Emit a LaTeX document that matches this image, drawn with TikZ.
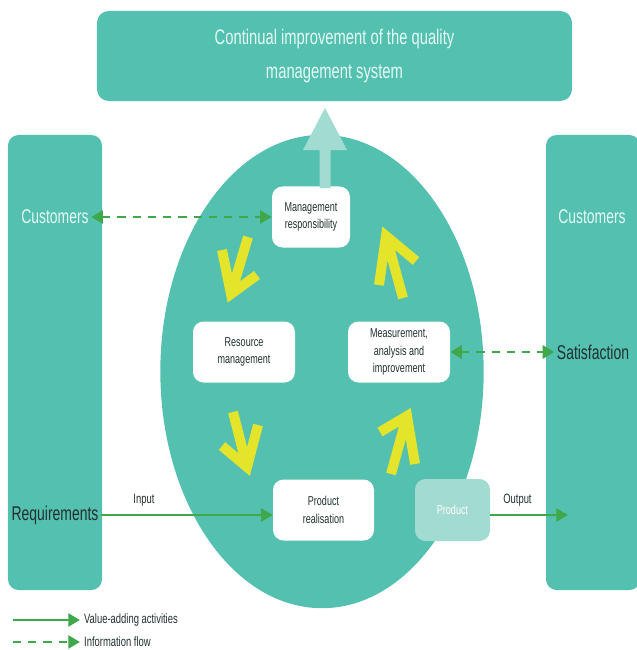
\documentclass[tikz,border=0pt]{standalone}
\usepackage{fontspec}
\setmainfont{Liberation Sans}[FakeStretch=0.7]
\usetikzlibrary{arrows.meta}
\definecolor{qteal}{RGB}{84,192,176}
\definecolor{qlight}{RGB}{162,219,210}
\definecolor{qyellow}{RGB}{228,228,42}
\definecolor{qgreen}{RGB}{62,168,74}
\definecolor{qdark}{RGB}{35,48,48}
\definecolor{qpale}{RGB}{228,250,246}
\tikzstyle{column}=[fill=qteal,rounded corners=9pt,minimum width=2.82cm,minimum height=13.65cm]
\tikzstyle{process}=[fill=white,rounded corners=9pt,align=center,text=qdark,minimum height=1.83cm,font=\fontsize{11}{15}\selectfont]
\tikzstyle{party}=[font=\fontsize{17}{20}\selectfont,inner sep=2pt]
\tikzstyle{flow}=[draw=qgreen,line width=2.5pt,-{Triangle[length=10pt,width=11pt]}]
\tikzstyle{info}=[flow,dash pattern=on 7pt off 6pt,{Triangle[length=10pt,width=11pt]}-{Triangle[length=10pt,width=11pt]}]
\tikzstyle{cycle}=[draw=qyellow,line width=8.5pt,line join=miter,miter limit=20]
\tikzstyle{flowtext}=[font=\fontsize{11.5}{13}\selectfont,text=qdark]

\begin{document}
\begin{tikzpicture}[x=0.03cm, y=-0.03cm]
	\useasboundingbox (0,0) rectangle (636,650);
	% First we draw the background shapes
	\node[fill=qteal,rounded corners=10pt,minimum width=14.25cm,minimum height=2.7cm,align=center,
		text=qpale,font=\fontsize{18}{29}\selectfont] (cip) at (334.5,56)
		{Continual improvement of the quality\\management system};
	\node[column] (left) at (55,362.5) {};
	\node[column] (right) at (593,362.5) {};
	\fill[qteal] (322,371.5) ellipse [x radius=4.85cm, y radius=7.1cm];

	% Then the process boxes
	\foreach \pos/\name/\boxw/\txt in {{(311,217)/mr/2.34/{Management\\responsibility}},
			{(244,352)/rm/3.06/{Resource\\management}}, {(399,352)/mai/3.06/{Measurement,\\analysis and\\improvement}},
			{(323.5,510)/pr/3.03/{Product\\realisation}}}
		\node[process,minimum width=\boxw cm] (\name) at \pos {\txt};
	\node[process,fill=qlight,text=white,minimum width=2.25cm,minimum height=1.86cm] (prod) at (452.5,510) {Product};

	% Improvement arrow out of the circle
	\fill[qlight] (319.5,188) -- (319.5,150) -- (303,150) -- (325,108) -- (347,150) -- (330.5,150) -- (330.5,188) -- cycle;

	% The yellow cycle arrows
	\foreach \tail/\tip/\barba/\barbb in {{(248,237)/(231,294)/(222,250)/(257,275)}, {(403,298)/(386,236)/(379,285)/(416,261)},
			{(233,412)/(247,467)/(222,446)/(258,425)}, {(391,474)/(407,416)/(380,432)/(415,464)}}
		\draw[cycle] \tail -- \tip \barba -- \tip -- \barbb;

	% Customers on both sides
	\node[party,text=qpale] (cust1) at (55,217) {Customers};
	\node[party,text=qdark] (req) at (55,515) {Requirements};
	\node[party,text=qpale] (cust2) at (592,217) {Customers};
	\node[party,text=qdark] (sat) at (593,352) {Satisfaction};
	\coordinate (outend) at (568,515);

	% Connect them
	\path[info] (cust1.east) -- (mr.west);
	\path[info] (mai.east) -- (sat.west);
	\path[flow] (req.east) -- node[flowtext,above=3pt,pos=0.25] {Input} (req.east -| pr.west);
	\path[flow] (prod.east |- outend) -- node[flowtext,above=3pt,pos=0.35] {Output} (outend);

	% Legend
	\node[flowtext,anchor=west] (valtext) at (80,620) {Value-adding activities};
	\node[flowtext,anchor=west] (inftext) at (80,642) {Information flow};
	\coordinate (val0) at (13,620);
	\coordinate (inf0) at (13,642);
	\path[flow] (val0) -- (valtext.west);
	\path[flow,dash pattern=on 7pt off 6pt] (inf0) -- (inftext.west);
\end{tikzpicture}
\end{document}
